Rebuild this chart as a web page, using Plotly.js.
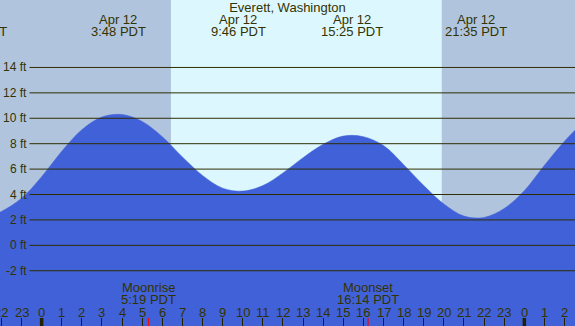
<!DOCTYPE html>
<html><head><meta charset="utf-8">
<script src="https://cdn.plot.ly/plotly-3.0.1.min.js"></script>
<style>html,body{margin:0;padding:0;overflow:hidden;background:#B0C4DE}</style>
</head><body><div id="chart" style="width:575px;height:326px"></div>
<script>
const tideHours = [-3,-2,-1,0,1,2,3,4,5,6,7,8,9,10,11,12,13,14,15,16,17,18,19,20,21,22,23,24,25,26,27];
const tideFeet  = [2.0,2.66,3.7,5.4,7.4,9.1,10.1,10.3,9.75,8.55,6.95,5.5,4.5,4.27,4.7,5.7,6.9,7.95,8.6,8.55,7.85,6.35,4.7,3.25,2.3,2.2,2.9,4.3,6.3,8.2,9.8];

const extremeHours = [-3.28, 3.8, 9.767, 15.417, 21.583];
const extremeDates = ["Apr 11", "Apr 12", "Apr 12", "Apr 12", "Apr 12"];
const extremeTimes = ["20:43 PDT", "3:48 PDT", "9:46 PDT", "15:25 PDT", "21:35 PDT"];

const hourTicks  = [-2,-1,0,1,2,3,4,5,6,7,8,9,10,11,12,13,14,15,16,17,18,19,20,21,22,23,24,25,26];
const hourLabels = ["22","23","0","1","2","3","4","5","6","7","8","9","10","11","12","13","14","15","16","17","18","19","20","21","22","23","0","1","2"];
const midnightHours = [0, 24];

const moonHours = [5.317, 16.233];
const moonNames = ["Moonrise", "Moonset"];
const moonTimes = ["5:19 PDT", "16:14 PDT"];

const sunHours = [6.43, 19.9]; // sunrise, sunset

const footTicks  = [-2, 0, 2, 4, 6, 8, 10, 12, 14];
const footLabels = ["-2 ft", "0 ft", "2 ft", "4 ft", "6 ft", "8 ft", "10 ft", "12 ft", "14 ft"];

const xRange = [-2.07, 26.52];
const yRange = [-6.35, 19.31];

const H = 326;
const txt = '#333300';
const gridCol = '#2e2e00';
const nightCol = '#B0C4DE';
const dayCol = '#DDF7FF';
const waterCol = '#4161D8';

const traces = [
  {x: tideHours, y: tideHours.map(() => yRange[0] - 1), mode: 'lines', line: {width: 0, color: waterCol}, hoverinfo: 'skip'},
  {x: tideHours, y: tideFeet, mode: 'lines', line: {width: 0.5, color: waterCol, shape: 'spline', smoothing: 1}, fill: 'tonexty', fillcolor: waterCol, hoverinfo: 'skip'}
];

const shapes = [];
shapes.push({type: 'rect', xref: 'x', yref: 'paper', x0: xRange[0] - 1, x1: sunHours[0], y0: 0, y1: 1, fillcolor: nightCol, line: {width: 0}, layer: 'below'});
shapes.push({type: 'rect', xref: 'x', yref: 'paper', x0: sunHours[0], x1: sunHours[1], y0: 0, y1: 1, fillcolor: dayCol, line: {width: 0}, layer: 'below'});
shapes.push({type: 'rect', xref: 'x', yref: 'paper', x0: sunHours[1], x1: xRange[1] + 1, y0: 0, y1: 1, fillcolor: nightCol, line: {width: 0}, layer: 'below'});
footTicks.forEach(v => shapes.push({type: 'line', xref: 'paper', yref: 'y', x0: 29.5 / 575, x1: 1, y0: v, y1: v, line: {color: gridCol, width: 1}, layer: 'above'}));
midnightHours.forEach(v => shapes.push({type: 'line', xref: 'x', yref: 'paper', x0: v, x1: v, y0: 0, y1: 8 / H, line: {color: '#222200', width: 3.5}, layer: 'above'}));
moonHours.forEach(v => shapes.push({type: 'line', xref: 'x', yref: 'paper', x0: v, x1: v, y0: 0, y1: 8 / H, line: {color: '#ff0000', width: 1}, layer: 'above'}));

const ann = [];
const base = {showarrow: false, borderpad: 0, font: {family: 'Liberation Sans, Arial, sans-serif', size: 13, color: txt}, xanchor: 'center', yanchor: 'middle'};
const py = px => 1 - px / H;
const inRange = h => h >= xRange[0] && h <= xRange[1];
const fracOf = h => (h - xRange[0]) / (xRange[1] - xRange[0]);

extremeHours.forEach((h, i) => {
  const xr = inRange(h) ? {xref: 'x', x: h} : {xref: 'paper', x: fracOf(h)};
  ann.push(Object.assign({}, base, xr, {yref: 'paper', y: py(19.7), text: extremeDates[i]}));
  ann.push(Object.assign({}, base, xr, {yref: 'paper', y: py(31.7), text: extremeTimes[i]}));
});

footTicks.forEach((v, i) => {
  ann.push(Object.assign({}, base, {font: {family: 'Liberation Sans, Arial, sans-serif', size: 12, color: txt}, xref: 'paper', x: 27.5 / 575, xanchor: 'right', yref: 'y', y: v, text: footLabels[i]}));
});

moonHours.forEach((h, i) => {
  ann.push(Object.assign({}, base, {xref: 'x', x: h, yref: 'paper', y: py(287.7), text: moonNames[i]}));
  ann.push(Object.assign({}, base, {xref: 'x', x: h, yref: 'paper', y: py(299.5), text: moonTimes[i]}));
});

hourTicks.forEach((h, i) => {
  ann.push(Object.assign({}, base, {font: {family: 'Liberation Sans Narrow, Liberation Sans, Arial, sans-serif', size: 13, color: txt}, xref: 'x', x: h, yref: 'paper', y: py(312), text: hourLabels[i]}));
});

const layout = {
  width: 575, height: H,
  margin: {l: 0, r: 0, t: 0, b: 0, pad: 0},
  paper_bgcolor: nightCol,
  plot_bgcolor: 'rgba(0,0,0,0)',
  showlegend: false,
  title: {text: 'Everett, Washington', x: 0.5, xanchor: 'center', y: 1 - 7.5 / H, yanchor: 'middle', font: {family: 'Liberation Sans, Arial, sans-serif', size: 13, color: txt}},
  xaxis: {range: xRange, showgrid: false, zeroline: false, showline: false, ticks: 'inside', ticklen: 8, tickwidth: 1, tickcolor: '#222200', tickvals: hourTicks, showticklabels: false, fixedrange: true},
  yaxis: {range: yRange, visible: false, fixedrange: true},
  shapes: shapes,
  annotations: ann
};

Plotly.newPlot('chart', traces, layout, {displayModeBar: false, staticPlot: true});
</script></body></html>
